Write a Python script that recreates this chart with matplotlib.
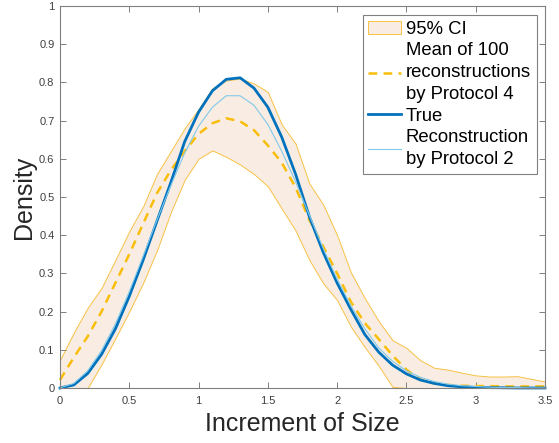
import matplotlib.pyplot as plt
from matplotlib.ticker import FormatStrFormatter
import numpy as np

plt.rcParams['font.family'] = ['Liberation Sans', 'DejaVu Sans']

# grid of increments, step 0.1
x = np.round(np.arange(0, 3.51, 0.1), 2)

true_density = [0.0, 0.008, 0.038, 0.088, 0.155, 0.24, 0.335, 0.437, 0.538, 0.645,
                0.722, 0.778, 0.808, 0.812, 0.785, 0.735, 0.657, 0.56, 0.448, 0.355,
                0.275, 0.205, 0.14, 0.094, 0.06, 0.037, 0.021, 0.012, 0.006, 0.003,
                0.0015, 0.001, 0.0005, 0.0, 0.0, 0.0]

recon_p2 = [0.0, 0.012, 0.045, 0.098, 0.168, 0.252, 0.345, 0.44, 0.53, 0.615,
            0.685, 0.735, 0.765, 0.765, 0.74, 0.69, 0.62, 0.54, 0.452, 0.365,
            0.285, 0.215, 0.155, 0.105, 0.07, 0.045, 0.028, 0.017, 0.01, 0.006,
            0.004, 0.002, 0.001, 0.001, 0.0, 0.0]

mean_p4 = [0.021, 0.08, 0.135, 0.2, 0.275, 0.35, 0.43, 0.51, 0.57, 0.62,
           0.665, 0.693, 0.706, 0.698, 0.675, 0.635, 0.59, 0.525, 0.44, 0.37,
           0.3, 0.225, 0.17, 0.128, 0.085, 0.048, 0.022, 0.012, 0.008, 0.006,
           0.005, 0.005, 0.004, 0.004, 0.004, 0.004]

ci_upper = [0.073, 0.145, 0.21, 0.262, 0.335, 0.41, 0.475, 0.56, 0.62, 0.68,
            0.73, 0.785, 0.805, 0.81, 0.797, 0.775, 0.69, 0.64, 0.535, 0.48,
            0.4, 0.302, 0.235, 0.175, 0.125, 0.105, 0.073, 0.053, 0.048, 0.04,
            0.033, 0.03, 0.03, 0.031, 0.024, 0.017]

ci_lower = [0.0, 0.0, 0.0, 0.062, 0.13, 0.2, 0.275, 0.36, 0.46, 0.545,
            0.6, 0.622, 0.605, 0.585, 0.56, 0.528, 0.47, 0.412, 0.335, 0.274,
            0.23, 0.16, 0.107, 0.058, 0.003, 0.0, 0.0, 0.0, 0.0, 0.0,
            0.0, 0.0, 0.0, 0.0, 0.0, 0.0]

x_ticks = [0, 0.5, 1, 1.5, 2, 2.5, 3, 3.5]
y_ticks = [0, 0.1, 0.2, 0.3, 0.4, 0.5, 0.6, 0.7, 0.8, 0.9, 1]

fig = plt.figure(figsize=(5.59, 4.43), dpi=100)
ax = fig.add_axes([0.1073, 0.1242, 0.8676, 0.8623])

ax.fill_between(x, ci_lower, ci_upper, facecolor='#f9ede3', edgecolor='#f7c244',
                linewidth=0.7, label='95% CI')
ax.plot(x, mean_p4, color='#f9bd0b', lw=1.8, dashes=(3.5, 2.5), clip_on=False,
        label='Mean of 100\nreconstructions\nby Protocol 4')
ax.plot(x, true_density, color='#0072bd', lw=2.0, clip_on=False, label='True')
ax.plot(x, recon_p2, color='#80c9ea', lw=0.8, clip_on=False,
        label='Reconstruction\nby Protocol 2')

ax.set_xlim(0, 3.5)
ax.set_ylim(0, 1)
ax.set_xticks(x_ticks)
ax.set_yticks(y_ticks)
ax.xaxis.set_major_formatter(FormatStrFormatter('%g'))
ax.yaxis.set_major_formatter(FormatStrFormatter('%g'))
ax.tick_params(direction='in', length=4.3, width=0.7, color='#808080',
               labelsize=8, labelcolor='#404040', top=True, right=True, pad=4)
ax.tick_params(axis='x', pad=6)
for s in ax.spines.values():
    s.set_color('#808080')
    s.set_linewidth(0.8)

ax.set_xlabel('Increment of Size', fontsize=18, color='#262626', labelpad=4)
ax.set_ylabel('Density', fontsize=18, color='#262626', labelpad=2)

leg = ax.legend(loc='upper right', bbox_to_anchor=(0.960, 0.966),
                bbox_transform=fig.transFigure, borderaxespad=0, fontsize=13.3,
                handlelength=1.8, handletextpad=0.25, borderpad=0.3,
                labelspacing=0.25, fancybox=False, framealpha=1)
leg.get_frame().set_edgecolor('#808080')
leg.get_frame().set_linewidth(0.8)
for t in leg.get_texts():
    t.set_color('#000000')
    t.set_linespacing(1.38)

fig.savefig('out.png', dpi=100)
